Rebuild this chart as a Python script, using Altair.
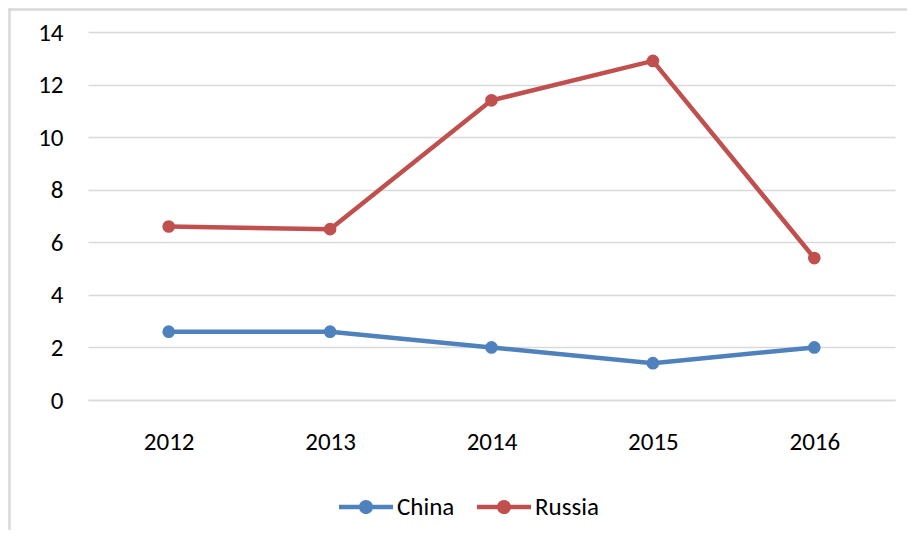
import altair as alt
import pandas as pd

years = ["2012", "2013", "2014", "2015", "2016"]
china = [2.6, 2.6, 2.0, 1.4, 2.0]
russia = [6.6, 6.5, 11.4, 12.9, 5.4]
series = ["China", "Russia"]
colors = ["#4F81BD", "#C0504D"]
y_ticks = [0, 2, 4, 6, 8, 10, 12, 14]

rows = []
for name, vals in zip(series, [china, russia]):
    for yr, v in zip(years, vals):
        rows.append({"Year": yr, "Value": v, "Series": name})
df = pd.DataFrame(rows)

FONT = "Carlito, 'Open Sans', sans-serif"
FS = 25
GRID = "#D9D9D9"

legend_path = (
    "M-1,-0.085L-0.2,-0.085L-0.2,0.085L-1,0.085Z "
    "M0.2,-0.085L1,-0.085L1,0.085L0.2,0.085Z "
    "M-0.26,0A0.26,0.26 0 1,1 0.26,0A0.26,0.26 0 1,1 -0.26,0Z"
)

x_enc = alt.X(
    "Year:O",
    sort=years,
    scale=alt.Scale(paddingOuter=0.5),
    axis=alt.Axis(
        title=None, labelAngle=0, ticks=False, tickSize=0, labelPadding=49,
        labelBaseline="alphabetic", labelFont=FONT, labelFontSize=FS,
        labelColor="#000000", domainColor=GRID, domainWidth=1.5, grid=False,
    ),
)
y_enc = alt.Y(
    "Value:Q",
    scale=alt.Scale(domain=[0, 14], nice=False),
    axis=alt.Axis(
        title=None, values=y_ticks, ticks=False, tickSize=0, labelPadding=25,
        labelFont=FONT, labelFontSize=FS, labelColor="#000000", domain=False,
        grid=True, gridColor=GRID, gridWidth=1.5,
    ),
)
color_enc = alt.Color(
    "Series:N",
    scale=alt.Scale(domain=series, range=colors),
    legend=alt.Legend(
        title=None, orient="none", legendX=251, legendY=448, direction="horizontal",
        symbolType=legend_path, symbolSize=2916, symbolStrokeWidth=0,
        labelFont=FONT, labelFontSize=FS, labelColor="#000000", labelOffset=4,
        columnPadding=22, padding=0,
    ),
)

base = alt.Chart(df)
lines = base.mark_line(strokeWidth=4.5).encode(x=x_enc, y=y_enc, color=color_enc)
points = base.mark_point(filled=True, size=160, opacity=1).encode(
    x=x_enc, y=y_enc, color=color_enc
)

one = pd.DataFrame({"a": [0]})
frame_left = alt.Chart(one).mark_rule(stroke=GRID, strokeWidth=2.5, clip=False).encode(
    x=alt.value(-78.5), y=alt.value(-23.5), y2=alt.value(498)
)
frame_top = alt.Chart(one).mark_rule(stroke=GRID, strokeWidth=2.5, clip=False).encode(
    x=alt.value(-79.5), x2=alt.value(819), y=alt.value(-22.5)
)

chart = alt.layer(frame_left, frame_top, lines, points).properties(
    width=807, height=368,
    autosize=alt.AutoSizeParams(type="none"),
    padding={"left": 80, "top": 24, "right": 12, "bottom": 130},
).configure(background="#FFFFFF").configure_view(stroke="transparent", strokeWidth=0)

chart.save("out.html", embed_options={"renderer": "svg", "actions": False})
